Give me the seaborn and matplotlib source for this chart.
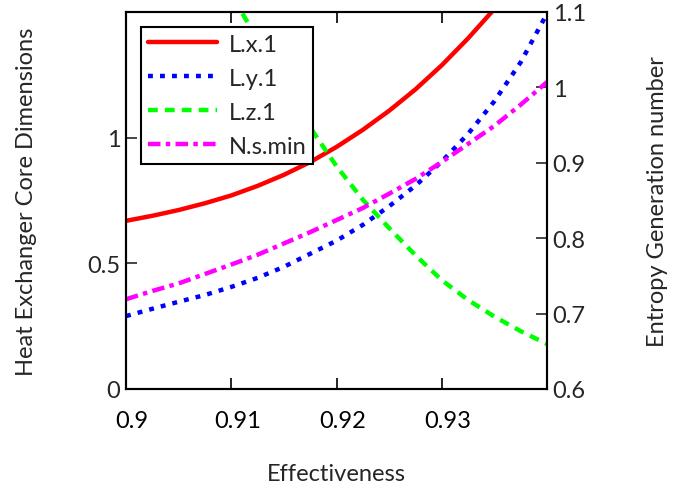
import seaborn as sns
import matplotlib.pyplot as plt
import pandas as pd
from matplotlib.lines import Line2D
import matplotlib.transforms as mtransforms

# values
effectiveness = [0.9, 0.9025, 0.905, 0.9075, 0.91, 0.9125, 0.915, 0.9175, 0.92,
                 0.9225, 0.925, 0.9275, 0.93, 0.9325, 0.935, 0.9375, 0.94]
L_x1 = [0.669, 0.689, 0.712, 0.739, 0.770, 0.808, 0.852, 0.903, 0.963,
        1.031, 1.107, 1.192, 1.288, 1.395, 1.512, 1.64, 1.78]
L_y1 = [0.290, 0.319, 0.347, 0.374, 0.406, 0.442, 0.486, 0.538, 0.590,
        0.653, 0.727, 0.809, 0.905, 1.015, 1.145, 1.300, 1.494]
eff_z = [0.91, 0.9125, 0.915, 0.9175, 0.92, 0.9225, 0.925, 0.9275, 0.93,
         0.9325, 0.935, 0.9375, 0.94]
L_z1 = [1.57, 1.39, 1.21, 1.04, 0.886, 0.753, 0.640, 0.532, 0.433,
        0.354, 0.288, 0.230, 0.179]
N_s_min = [0.719, 0.730, 0.740, 0.7525, 0.765, 0.778, 0.793, 0.808, 0.824,
           0.840, 0.859, 0.8785, 0.901, 0.925, 0.949, 0.977, 1.007]

sns.set_style("ticks")
plt.rcParams['font.family'] = ['Lato', 'DejaVu Sans']

df = pd.DataFrame({'eff': effectiveness, 'Lx': L_x1, 'Ly': L_y1, 'Ns': N_s_min})
dz = pd.DataFrame({'eff': eff_z, 'Lz': L_z1})

fig = plt.figure(figsize=(6.74, 4.89), dpi=100)
ax = fig.add_axes([0.187, 0.2025, 0.6246, 0.771])
ax2 = ax.twinx()

lw = 3.2
styles = {
    'L.x.1': dict(color='#ff0000', linestyle='-'),
    'L.y.1': dict(color='#0000ff', linestyle=(0, (1.1, 1.6))),
    'L.z.1': dict(color='#00ff00', linestyle=(0, (2.2, 1.6))),
    'N.s.min': dict(color='#ff00ff', linestyle=(0, (2.8, 1.2, 1.0, 1.2))),
}

sns.lineplot(data=df, x='eff', y='Lx', ax=ax, lw=lw, **styles['L.x.1'])
sns.lineplot(data=df, x='eff', y='Ly', ax=ax, lw=lw, **styles['L.y.1'])
sns.lineplot(data=dz, x='eff', y='Lz', ax=ax, lw=lw, **styles['L.z.1'])
sns.lineplot(data=df, x='eff', y='Ns', ax=ax2, lw=lw, **styles['N.s.min'])

ax.set_xlim(0.9, 0.94)
ax.set_ylim(0, 1.5)
ax2.set_ylim(0.6, 1.1)

ax.set_xticks([0.9, 0.91, 0.92, 0.93])
ax.set_xticklabels(['0.9', '0.91', '0.92', '0.93'])
ax.set_yticks([0, 0.5, 1])
ax.set_yticklabels(['0', '0.5', '1'])
ax2.set_yticks([0.6, 0.7, 0.8, 0.9, 1.0, 1.1])
ax2.set_yticklabels(['0.6', '0.7', '0.8', '0.9', '1', '1.1'])

fs = 17
ax.tick_params(axis='x', direction='in', length=8, width=1.2, labelsize=fs,
               pad=15, top=True, colors='black')
ax.tick_params(axis='y', direction='in', length=8, width=1.2, labelsize=fs,
               pad=4, right=False)
ax2.tick_params(axis='y', direction='in', length=8, width=1.2, labelsize=fs, pad=4)
for a in (ax, ax2):
    for s in a.spines.values():
        s.set_linewidth(1.5)
        s.set_color('black')

offset = mtransforms.ScaledTranslation(6 / 100, 0, fig.dpi_scale_trans)
for lab in ax.get_xticklabels():
    lab.set_transform(lab.get_transform() + offset)

ax.set_xlabel("Effectiveness", fontsize=fs, labelpad=23)
ax.set_ylabel("Heat Exchanger Core Dimensions", fontsize=fs, labelpad=36)
ax2.set_ylabel("Entropy Generation number", fontsize=fs, labelpad=44)

handles = [Line2D([], [], lw=lw, **styles[k]) for k in styles]
leg = ax.legend(handles, list(styles.keys()), loc='upper left',
                bbox_to_anchor=(0.036, 0.961), borderaxespad=0,
                fontsize=fs, frameon=True, fancybox=False, framealpha=1,
                handlelength=2.9, handletextpad=0.5, labelspacing=0.55,
                borderpad=0.3)
leg.get_frame().set_edgecolor('black')
leg.get_frame().set_linewidth(1.5)

fig.savefig('out.png', dpi=100)
